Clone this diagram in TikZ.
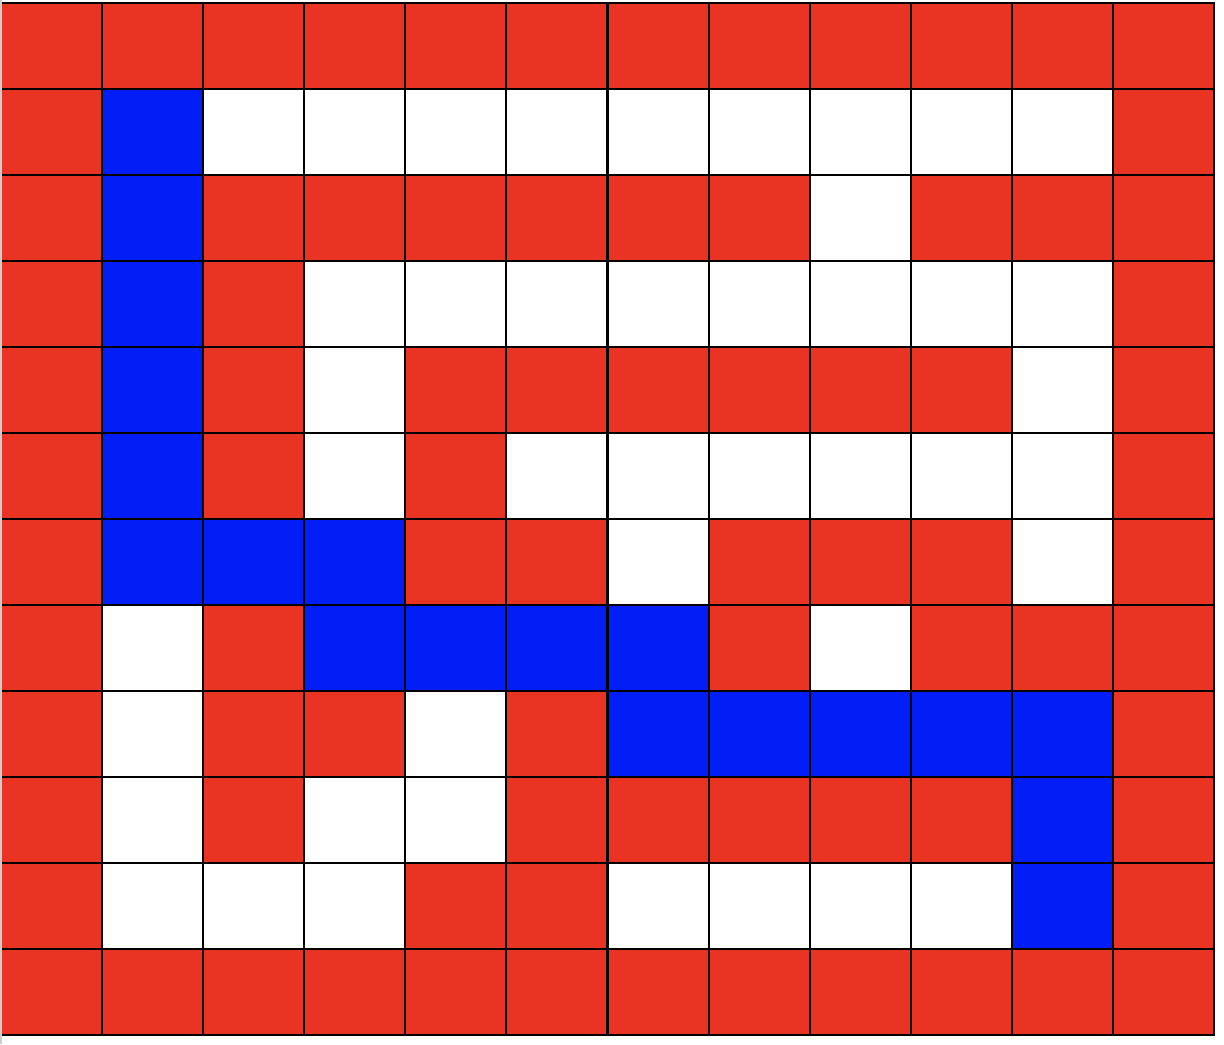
\documentclass[tikz,border=0pt]{standalone}
\usepackage{tikz}
\definecolor{cell0}{RGB}{255,255,255}
\definecolor{cell1}{RGB}{233,51,35}
\definecolor{cell2}{RGB}{0,30,245}
\tikzset{mazecell/.style={draw=black,line width=0.6pt}}

\begin{document}
\begin{tikzpicture}
            \useasboundingbox(0,0)rectangle(12.24,10.44);
            %迷路 (0=通路, 1=壁, 2=経路)
            \begin{scope}[x=1.0108cm,y=-0.86cm,shift={(0.01cm,10.41cm)}]
            \foreach \row[count=\r from 0] in {
                {1,1,1,1,1,1,1,1,1,1,1,1},
                {1,2,0,0,0,0,0,0,0,0,0,1},
                {1,2,1,1,1,1,1,1,0,1,1,1},
                {1,2,1,0,0,0,0,0,0,0,0,1},
                {1,2,1,0,1,1,1,1,1,1,0,1},
                {1,2,1,0,1,0,0,0,0,0,0,1},
                {1,2,2,2,1,1,0,1,1,1,0,1},
                {1,0,1,2,2,2,2,1,0,1,1,1},
                {1,0,1,1,0,1,2,2,2,2,2,1},
                {1,0,1,0,0,1,1,1,1,1,2,1},
                {1,0,0,0,1,1,0,0,0,0,2,1},
                {1,1,1,1,1,1,1,1,1,1,1,1}}
              \foreach \c[count=\k from 0] in \row
                \draw[mazecell,fill=cell\c](\k,\r)rectangle++(1,1);
            \end{scope}
            %左端の線
            \fill[lightgray!80](0,0)rectangle(0.025,10.44);
        \end{tikzpicture}
\end{document}
